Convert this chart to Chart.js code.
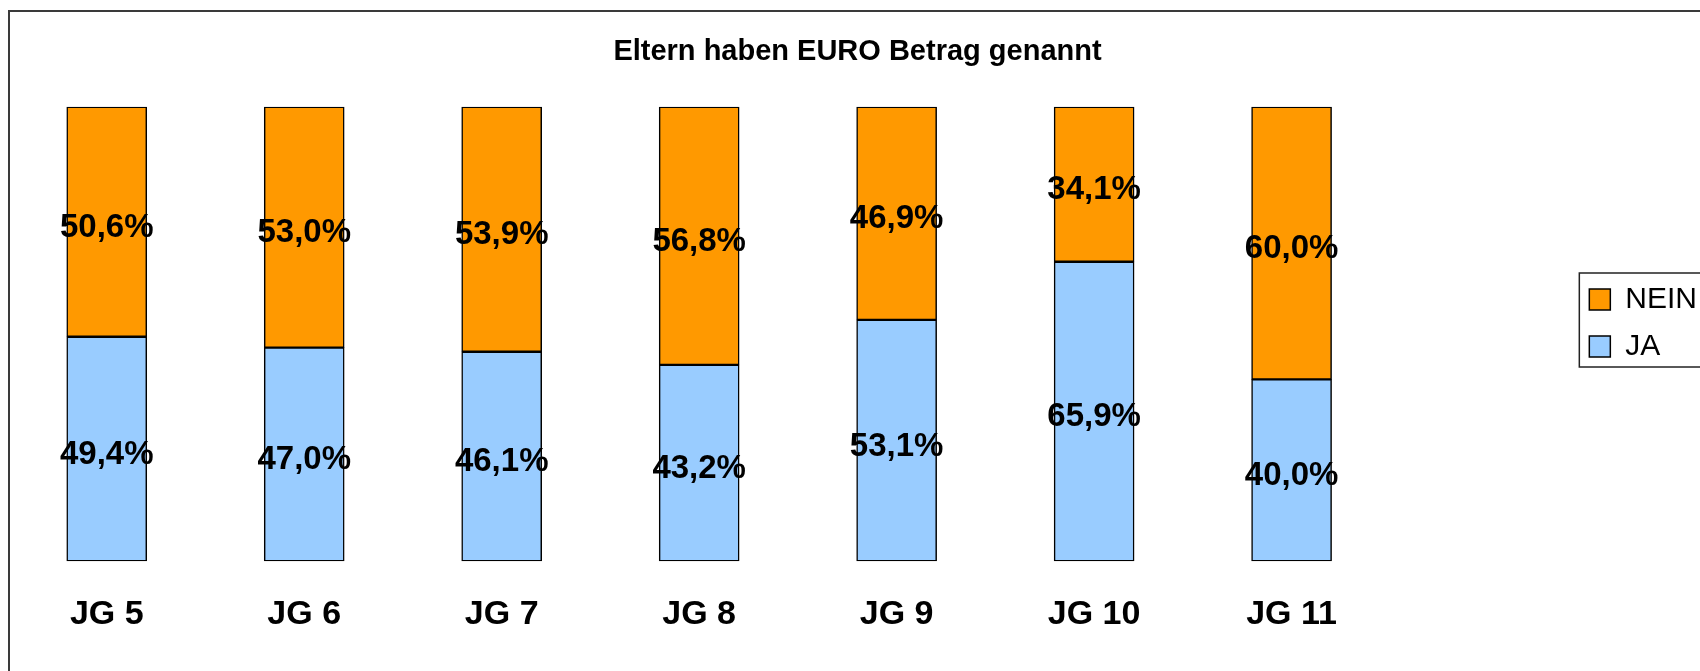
<!DOCTYPE html>
<html>
<head>
<meta charset="utf-8">
<script src="https://cdn.jsdelivr.net/npm/chart.js@4/dist/chart.umd.min.js"></script>
<style>
  html, body { margin: 0; padding: 0; background: #fff; overflow: hidden; }
  #frame {
    position: absolute; left: 8px; top: 10px; width: 1800px; height: 800px;
    border: 2px solid #3a3a3a; box-sizing: border-box;
  }
  #wrap { position: absolute; left: 0; top: 0; width: 1707px; height: 671px; }
</style>
</head>
<body>
<div id="frame"></div>
<div id="wrap"><canvas id="chart"></canvas></div>
<script>
// Daten
const categories = ['JG 5', 'JG 6', 'JG 7', 'JG 8', 'JG 9', 'JG 10', 'JG 11'];
const jaValues = [49.4, 47.0, 46.1, 43.2, 53.1, 65.9, 40.0];
const neinValues = [50.6, 53.0, 53.9, 56.8, 46.9, 34.1, 60.0];
const chartTitle = 'Eltern haben EURO Betrag genannt';

Chart.defaults.font.family = "'Liberation Sans', Arial, sans-serif";
Chart.defaults.color = '#000';

const fmt = v => v.toFixed(1).replace('.', ',') + '%';

/**
 * Prozentwerte mittig in jedes Segment schreiben
 */
const segmentLabels = {
  id: 'segmentLabels',
  afterDatasetsDraw(chart) {
    const ctx = chart.ctx;
    ctx.save();
    ctx.font = 'bold 33px "Liberation Sans", Arial, sans-serif';
    ctx.fillStyle = '#000';
    ctx.textAlign = 'center';
    ctx.textBaseline = 'alphabetic';
    chart.data.datasets.forEach((ds, i) => {
      chart.getDatasetMeta(i).data.forEach((bar, j) => {
        // Grundlinie so, dass die Ziffern knapp unter der Segmentmitte sitzen
        ctx.fillText(fmt(ds.data[j]), bar.x, (bar.y + bar.base) / 2 + 15);
      });
    });
    ctx.restore();
  },
};

/**
 * Legende etwas nach oben schieben und einrahmen
 */
const legendFrame = {
  id: 'legendFrame',
  afterLayout(chart) {
    chart.legend.top -= 11;
    chart.legend.bottom -= 11;
  },
  afterDraw(chart) {
    const boxes = chart.legend.legendHitBoxes;
    if (!boxes || !boxes.length) return;
    const first = boxes[0];
    const last = boxes[boxes.length - 1];
    const ctx = chart.ctx;
    ctx.save();
    ctx.strokeStyle = '#222';
    ctx.lineWidth = 1.5;
    ctx.strokeRect(first.left - 10, first.top - 11.5, 400, last.top - first.top + 47);
    ctx.restore();
  },
};

new Chart(document.getElementById('chart').getContext('2d'), {
  type: 'bar',
  data: {
    labels: categories,
    datasets: [
      {
        label: 'JA',
        data: jaValues,
        backgroundColor: '#99ccff',
        borderColor: '#000',
        borderWidth: 1.5,
        borderSkipped: false,
        barThickness: 80,
      },
      {
        label: 'NEIN',
        data: neinValues,
        backgroundColor: '#ff9900',
        borderColor: '#000',
        borderWidth: 1.5,
        borderSkipped: false,
        barThickness: 80,
      },
    ],
  },
  options: {
    responsive: true,
    maintainAspectRatio: false,
    animation: false,
    layout: { padding: { left: 8, top: 0, right: 0, bottom: 3 } },
    scales: {
      x: {
        stacked: true,
        grid: { display: false, drawTicks: false },
        border: { display: false },
        ticks: { font: { size: 34, weight: 'bold' }, padding: 33, color: '#000' },
      },
      y: {
        stacked: true,
        position: 'right',
        min: 0,
        max: 100,
        grid: { display: false, drawTicks: false },
        border: { display: false },
        ticks: { display: false },
        afterFit(scale) { scale.width = 182; },
      },
    },
    plugins: {
      title: {
        display: true,
        text: chartTitle,
        font: { size: 29, weight: 'bold' },
        color: '#000',
        padding: { top: 35, bottom: 37 },
      },
      legend: {
        position: 'right',
        reverse: true,
        labels: {
          boxWidth: 21,
          boxHeight: 21,
          font: { size: 30 },
          color: '#000',
          padding: 17,
        },
      },
      tooltip: { enabled: false },
    },
  },
  plugins: [segmentLabels, legendFrame],
});
</script>
</body>
</html>
